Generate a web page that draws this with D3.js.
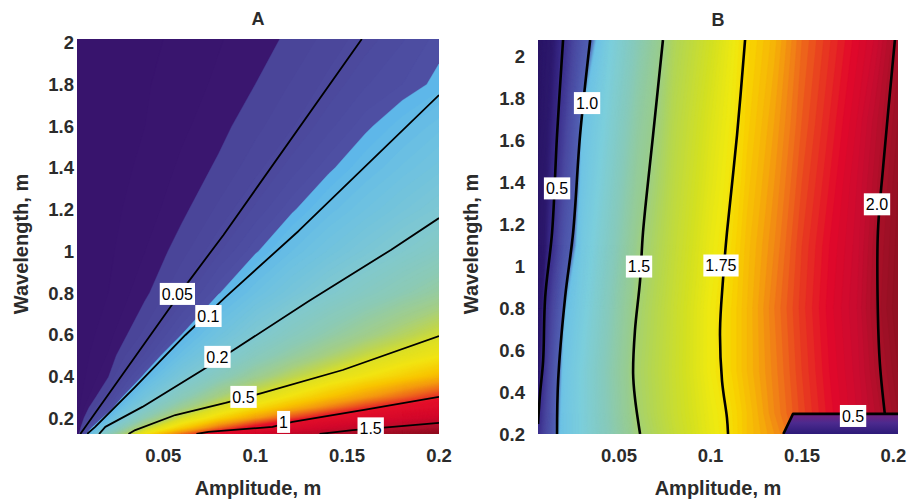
<!DOCTYPE html>
<html>
<head>
<meta charset="utf-8">
<script src="https://cdn.jsdelivr.net/npm/d3@7"></script>
<style>
  body { margin: 0; background: #fff; }
  text { font-family: "Liberation Sans", Arial, Helvetica, sans-serif; }
</style>
</head>
<body>
<svg id="chart" width="910" height="500"></svg>
<script>
// ---- data ----
const xTicks = [0.05, 0.1, 0.15, 0.2];
const yTicks = [0.2, 0.4, 0.6, 0.8, 1, 1.2, 1.4, 1.6, 1.8, 2];
const yTickLabels = ["0.2", "0.4", "0.6", "0.8", "1", "1.2", "1.4", "1.6", "1.8", "2"];

// panel A: grid of values (rows = wavelength, cols = amplitude)
const ampA = [0.003, 0.02, 0.04, 0.06, 0.08, 0.1, 0.12, 0.14, 0.16, 0.18, 0.2];
const waveA = [0.123, 0.15, 0.2, 0.25, 0.3, 0.4, 0.5, 0.6, 0.8, 1.0, 1.2, 1.4, 1.6, 1.8, 2.018];
const fieldA = [
  [0.013, 0.269, 0.595, 0.851, 1.074, 1.25, 1.426, 1.581, 1.721, 1.861, 2.0],
  [0.010, 0.187, 0.471, 0.679, 0.877, 1.052, 1.189, 1.325, 1.462, 1.578, 1.687],
  [0.007, 0.110, 0.303, 0.504, 0.644, 0.783, 0.924, 1.044, 1.140, 1.237, 1.333],
  [0.005, 0.070, 0.212, 0.367, 0.516, 0.624, 0.732, 0.840, 0.949, 1.039, 1.114],
  [0.004, 0.047, 0.158, 0.281, 0.408, 0.524, 0.612, 0.701, 0.789, 0.877, 0.965],
  [0.003, 0.029, 0.095, 0.180, 0.270, 0.363, 0.455, 0.533, 0.598, 0.662, 0.727],
  [0.003, 0.021, 0.062, 0.126, 0.192, 0.265, 0.337, 0.411, 0.483, 0.539, 0.590],
  [0.002, 0.016, 0.043, 0.090, 0.146, 0.201, 0.261, 0.321, 0.381, 0.441, 0.501],
  [0.002, 0.010, 0.027, 0.051, 0.088, 0.130, 0.170, 0.212, 0.256, 0.301, 0.345],
  [0.001, 0.008, 0.020, 0.036, 0.058, 0.087, 0.120, 0.152, 0.184, 0.218, 0.254],
  [0.001, 0.007, 0.015, 0.027, 0.042, 0.062, 0.087, 0.114, 0.140, 0.167, 0.194],
  [0.001, 0.006, 0.012, 0.022, 0.032, 0.046, 0.065, 0.086, 0.109, 0.132, 0.155],
  [0.001, 0.005, 0.010, 0.018, 0.026, 0.037, 0.049, 0.067, 0.086, 0.106, 0.126],
  [0.001, 0.005, 0.009, 0.015, 0.022, 0.030, 0.041, 0.053, 0.069, 0.080, 0.095],
  [0.001, 0.004, 0.008, 0.012, 0.019, 0.026, 0.032, 0.044, 0.055, 0.069, 0.084]
];

// panel A contour lines [amplitude, wavelength]
const linesA = [
  { level: "0.05", label: [0.0576, 0.795], pts: [[0.158, 2.018], [0.0827, 1.078], [0.0631, 0.847], [0.0075, 0.157], [0.0048, 0.123]] },
  { level: "0.1", label: [0.0745, 0.689], pts: [[0.2, 1.749], [0.1236, 1.097], [0.0838, 0.78], [0.062, 0.598], [0.0347, 0.349], [0.0129, 0.157], [0.0085, 0.123]] },
  { level: "0.2", label: [0.0794, 0.493], pts: [[0.2, 1.159], [0.1738, 1.006], [0.129, 0.76], [0.0882, 0.526], [0.0713, 0.43], [0.0386, 0.253], [0.0184, 0.157], [0.015, 0.123]] },
  { level: "0.5", label: [0.0936, 0.301], pts: [[0.2, 0.593], [0.1476, 0.43], [0.104, 0.32], [0.0838, 0.272], [0.0565, 0.214], [0.0347, 0.142], [0.031, 0.123]] },
  { level: "1", label: [0.1154, 0.181], pts: [[0.2, 0.301], [0.16, 0.24], [0.1203, 0.181], [0.1094, 0.157], [0.0745, 0.133], [0.068, 0.123]] },
  { level: "1.5", label: [0.1628, 0.150], pts: [[0.2, 0.176], [0.1748, 0.157], [0.153, 0.142], [0.14, 0.128], [0.135, 0.123]] }
];

// panel B: grid of values
const ampB = [0.0057, 0.01, 0.015, 0.02, 0.03, 0.045, 0.06, 0.08, 0.1, 0.12, 0.135, 0.15, 0.165, 0.18, 0.19, 0.2025];
const waveB = [0.2, 0.3, 0.5, 0.8, 1.1, 1.4, 1.7, 2.08];
const fieldB = [
  [0.52, 0.72, 0.95, 1.04, 1.16, 1.32, 1.485, 1.60, 1.70, 1.78, 1.82, 1.865, 1.905, 1.94, 1.97, 2.01],
  [0.46, 0.68, 0.93, 1.04, 1.16, 1.33, 1.50, 1.61, 1.705, 1.78, 1.83, 1.875, 1.915, 1.95, 1.98, 2.02],
  [0.36, 0.60, 0.88, 1.03, 1.16, 1.34, 1.51, 1.615, 1.72, 1.79, 1.835, 1.88, 1.92, 1.955, 1.99, 2.03],
  [0.30, 0.52, 0.75, 0.98, 1.12, 1.31, 1.494, 1.61, 1.72, 1.79, 1.84, 1.885, 1.925, 1.96, 2.0, 2.04],
  [0.30, 0.42, 0.59, 0.82, 1.08, 1.27, 1.46, 1.593, 1.703, 1.785, 1.83, 1.88, 1.92, 1.955, 1.995, 2.035],
  [0.30, 0.40, 0.51, 0.72, 1.04, 1.23, 1.42, 1.576, 1.685, 1.775, 1.82, 1.87, 1.91, 1.95, 1.985, 2.03],
  [0.28, 0.38, 0.47, 0.63, 1.005, 1.19, 1.38, 1.558, 1.668, 1.765, 1.81, 1.86, 1.90, 1.94, 1.975, 2.02],
  [0.25, 0.35, 0.43, 0.52, 0.85, 1.14, 1.32, 1.53, 1.64, 1.755, 1.796, 1.85, 1.888, 1.926, 1.952, 2.005]
];

const linesB = [
  { level: "0.5", label: [0.0161, 1.372], pts: [[0.0194, 2.08], [0.0161, 1.626], [0.0134, 1.162], [0.0096, 0.851], [0.0085, 0.549], [0.0068, 0.391], [0.0057, 0.248]] },
  { level: "1.0", label: [0.0325, 1.779], pts: [[0.0342, 2.08], [0.0287, 1.626], [0.0249, 1.162], [0.0205, 0.851], [0.0167, 0.454], [0.0161, 0.2]] },
  { level: "1.5", label: [0.0609, 0.999], pts: [[0.074, 2.08], [0.0686, 1.626], [0.0631, 1.162], [0.0615, 0.932], [0.0587, 0.693], [0.0577, 0.487], [0.0587, 0.372], [0.0615, 0.2]] },
  { level: "1.75", label: [0.1057, 1.004], pts: [[0.1189, 2.08], [0.1145, 1.626], [0.109, 1.162], [0.1068, 0.932], [0.1052, 0.693], [0.1063, 0.454], [0.109, 0.277], [0.1096, 0.2]] },
  { level: "2.0", label: [0.191, 1.296], pts: [[0.2008, 2.08], [0.1943, 1.468], [0.1915, 1.162], [0.1915, 0.774], [0.1926, 0.535], [0.1953, 0.296]] },
  { level: "0.5", label: [0.1779, 0.286], pts: [[0.1398, 0.2], [0.1451, 0.296], [0.2025, 0.296]] }
];
// low-value pocket of panel B (below the lower 0.5 contour)
const lowZoneB = [[0.1398, 0.2], [0.1451, 0.296], [0.2025, 0.296], [0.2025, 0.2]];

// ---- colour ramps ----
const colorA = d3.scaleLinear()
  .domain([0, 0.0299, 0.03, 0.0899, 0.09, 0.13, 0.2, 0.3, 0.4, 0.47, 0.52, 0.6, 0.7, 0.8, 0.9, 1.0, 1.3, 1.6, 2.0])
  .range(["#37146c", "#3a1670", "#4a4498", "#4e50a4", "#5cb6ea", "#6cc0e2", "#7ec8d2", "#8ccab4", "#a4ce84",
          "#c0d64c", "#dcdf24", "#f2e412", "#f8c400", "#f49810", "#ec5820", "#e4102a", "#d2082c", "#b0102c", "#901020"])
  .clamp(true);

const colorB = d3.scaleLinear()
  .domain([0.2, 0.4, 0.5, 0.7, 0.95, 1.0, 1.15, 1.3, 1.45, 1.55, 1.65, 1.72, 1.76, 1.8, 1.84, 1.88, 1.92, 1.96, 2.0, 2.05])
  .range(["#2a1464", "#2c186c", "#3a2c8a", "#4a48a0", "#5262b4", "#6cc2e6", "#7ccedc", "#86cabc", "#98cc90", "#b4d650",
          "#d4e020", "#f0ea10", "#f8d400", "#f6b008", "#f07a18", "#e83c20", "#e2082a", "#c80c30", "#a81028", "#881020"])
  .clamp(true);

const svg = d3.select("#chart");
const defs = svg.append("defs");
const grad = defs.append("linearGradient").attr("id", "lowB")
  .attr("x1", 0).attr("y1", 0).attr("x2", 0).attr("y2", 1);
grad.append("stop").attr("offset", "0%").attr("stop-color", "#74207e");
grad.append("stop").attr("offset", "45%").attr("stop-color", "#4c2a8e");
grad.append("stop").attr("offset", "100%").attr("stop-color", "#2c1a78");

function panel(opt) {
  const x = d3.scaleLinear().domain(opt.xDomain).range([opt.left, opt.right]);
  const y = d3.scaleLinear().domain(opt.yDomain).range([opt.bottom, opt.top]);
  const g = svg.append("g");

  const clipId = "clip" + opt.name;
  g.append("clipPath").attr("id", clipId)
    .append("rect")
    .attr("x", opt.left).attr("y", opt.top)
    .attr("width", opt.right - opt.left).attr("height", opt.bottom - opt.top);

  const plot = g.append("g").attr("clip-path", `url(#${clipId})`);

  // filled field via d3.contours on the (non-uniform) grid
  const n = opt.xs.length, m = opt.ys.length;
  const ix = d3.scaleLinear().domain(d3.range(n).map(i => i + 0.5)).range(opt.xs).clamp(true);
  const iy = d3.scaleLinear().domain(d3.range(m).map(j => j + 0.5)).range(opt.ys).clamp(true);
  const proj = d3.geoTransform({
    point: function (px, py) { this.stream.point(x(ix(px)), y(iy(py))); }
  });
  const path = d3.geoPath(proj);
  const values = opt.field.flat();
  const thresholds = d3.range(opt.tMin * 100, opt.tMax * 100).map(i => i / 100);
  const bands = d3.contours().size([n, m]).thresholds(thresholds)(values);

  plot.append("rect")
    .attr("x", opt.left).attr("y", opt.top)
    .attr("width", opt.right - opt.left).attr("height", opt.bottom - opt.top)
    .attr("fill", opt.color(opt.tMin));

  plot.selectAll("path.band")
    .data(bands)
    .join("path")
    .attr("class", "band")
    .attr("d", path)
    .attr("fill", d => opt.color(d.value + 0.005))
    .attr("stroke", d => opt.color(d.value + 0.005))
    .attr("stroke-width", 0.4);

  if (opt.lowZone) {
    plot.append("path")
      .attr("d", d3.line().x(d => x(d[0])).y(d => y(d[1]))(opt.lowZone) + "Z")
      .attr("fill", "url(#lowB)");
  }

  // contour lines (short polylines keep their corners)
  const smooth = d3.line().x(d => x(d[0])).y(d => y(d[1])).curve(opt.curve);
  const sharp = d3.line().x(d => x(d[0])).y(d => y(d[1]));
  plot.selectAll("path.iso")
    .data(opt.lines)
    .join("path")
    .attr("class", "iso")
    .attr("d", d => (d.pts.length > 3 ? smooth : sharp)(d.pts))
    .attr("fill", "none")
    .attr("stroke", "#000")
    .attr("stroke-width", opt.lineWidth)
    .attr("stroke-linejoin", "round");

  // contour labels
  const lab = plot.selectAll("g.lab")
    .data(opt.lines)
    .join("g")
    .attr("class", "lab")
    .attr("transform", d => `translate(${x(d.label[0])},${y(d.label[1])})`);
  lab.append("rect").attr("fill", "#fff");
  lab.append("text")
    .attr("text-anchor", "middle")
    .attr("dy", "0.36em")
    .attr("font-size", 16)
    .attr("fill", "#000")
    .text(d => d.level);
  lab.each(function () {
    const t = d3.select(this).select("text").node().getBBox();
    d3.select(this).select("rect")
      .attr("x", t.x - 2).attr("y", -11)
      .attr("width", t.width + 4).attr("height", 22);
  });

  // tick labels
  g.selectAll("text.xt")
    .data(xTicks)
    .join("text")
    .attr("class", "xt")
    .attr("x", d => x(d))
    .attr("y", 462)
    .attr("text-anchor", "middle")
    .attr("font-size", 18.5)
    .attr("font-weight", "bold")
    .attr("fill", "#2b2b2b")
    .text(d => d);

  g.selectAll("text.yt")
    .data(yTicks)
    .join("text")
    .attr("class", "yt")
    .attr("x", opt.left - opt.yTickGap)
    .attr("y", d => y(d))
    .attr("dy", "0.36em")
    .attr("text-anchor", "end")
    .attr("font-size", 18.5)
    .attr("font-weight", "bold")
    .attr("fill", "#2b2b2b")
    .text((d, i) => yTickLabels[i]);

  g.append("text")
    .attr("x", opt.titleX).attr("y", opt.titleY)
    .attr("text-anchor", "middle")
    .attr("font-size", 18)
    .attr("font-weight", "bold")
    .attr("fill", "#2b2b2b")
    .text(opt.name);

  g.append("text")
    .attr("x", opt.titleX).attr("y", 495)
    .attr("text-anchor", "middle")
    .attr("font-size", 20)
    .attr("font-weight", "bold")
    .attr("fill", "#2b2b2b")
    .text("Amplitude, m");

  g.append("text")
    .attr("transform", `translate(${opt.yLabelX},244) rotate(-90)`)
    .attr("text-anchor", "middle")
    .attr("font-size", 20)
    .attr("font-weight", "bold")
    .attr("fill", "#2b2b2b")
    .text("Wavelength, m");
}

panel({
  name: "A", left: 77, right: 439, top: 39, bottom: 434,
  xDomain: [0.003, 0.2], yDomain: [0.123, 2.018],
  xs: ampA, ys: waveA, field: fieldA, color: colorA, tMin: 0, tMax: 2.1,
  lines: linesA, lineWidth: 1.8, curve: d3.curveLinear, yTickGap: 3,
  titleX: 258, titleY: 25, yLabelX: 28
});

panel({
  name: "B", left: 538, right: 898, top: 40, bottom: 434,
  xDomain: [0.0057, 0.2025], yDomain: [0.2, 2.08],
  xs: ampB, ys: waveB, field: fieldB, color: colorB, tMin: 0.2, tMax: 2.1,
  lines: linesB, lineWidth: 2.6, curve: d3.curveCatmullRom, yTickGap: 13,
  lowZone: lowZoneB,
  titleX: 718, titleY: 26, yLabelX: 478
});
</script>
</body>
</html>
